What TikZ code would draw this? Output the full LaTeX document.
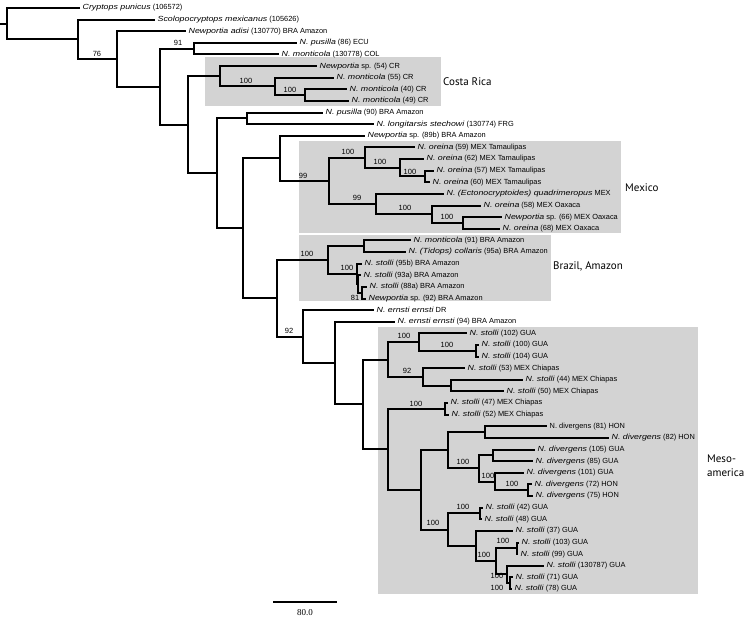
\documentclass[tikz,border=0pt]{standalone}
\usepackage{fontspec}
\setmainfont{Liberation Sans}[ItalicFeatures={FakeStretch=1.19}]
\newfontfamily\regionfont{PT Sans}
\newfontfamily\scalebarfont{Liberation Serif}
\definecolor{boxgray}{RGB}{211,211,211}
\begin{document}
\begin{tikzpicture}[x=1pt,y=-1pt,
  declare function={ly(\k)=11.62*\k-3.62;},
  br/.style={line width=2pt, line join=miter},
  lf/.style={anchor=west, inner xsep=2.5pt, inner ysep=0pt, font=\fontsize{7.4}{8}\selectfont},
  bs/.style={inner sep=0pt, font=\fontsize{7.5}{8}\selectfont},
  region/.style={anchor=west, inner sep=0pt, align=left, font=\regionfont\fontsize{11}{14}\selectfont},
  clbox/.style={fill=boxgray, draw=none, inner sep=0pt, anchor=north west}
]
\useasboundingbox (0,0) rectangle (756,624);

% shaded clade boxes
\node[clbox, minimum width=236pt, minimum height=49pt] (boxcr) at (205,57) {};
\node[clbox, minimum width=322pt, minimum height=92pt] (boxmx) at (299,141) {};
\node[clbox, minimum width=252pt, minimum height=66pt] (boxbr) at (299,235) {};
\node[clbox, minimum width=320pt, minimum height=267pt] (boxme) at (378,327) {};

% region labels
\node[region] (rcr) at (443,82) {Costa Rica};
\node[region] (rmx) at (625,188) {Mexico};
\node[region] (rbr) at (553,266) {Brazil, Amazon};
\node[region] (rme) at (707,466) {Meso-\\america};

% internal nodes
\coordinate (rootstub) at (0,{ly(2.345)});
\coordinate (nroot) at (7,{ly(2.345)});
\coordinate (nA) at (78,{ly(3.695)});
\coordinate (nB) at (117,{ly(5.39)});
\coordinate (nC) at (160,{ly(7.775)});
\coordinate (nD) at (194,{ly(4.5)});
\coordinate (nE) at (188,{ly(11.05)});
\coordinate (nCR) at (220,{ly(6.875)});
\coordinate (nCR2) at (275,{ly(7.75)});
\coordinate (nCR3) at (305,{ly(8.5)});
\coordinate (nF) at (217,{ly(15.23)});
\coordinate (nG) at (247,{ly(10.5)});
\coordinate (nH) at (243,{ly(19.96)});
\coordinate (nI) at (280,{ly(13.9375)});
\coordinate (nMX) at (329,{ly(15.875)});
\coordinate (nMXa) at (365,{ly(13.875)});
\coordinate (nMXa2) at (400,{ly(14.75)});
\coordinate (nMXa3) at (425,{ly(15.5)});
\coordinate (nMXb) at (376,{ly(17.875)});
\coordinate (nMXb2) at (432,{ly(18.75)});
\coordinate (nMXb3) at (463,{ly(19.5)});
\coordinate (nJ) at (277,{ly(25.98)});
\coordinate (nBR) at (328,{ly(22.6875)});
\coordinate (nBRa) at (364,{ly(21.5)});
\coordinate (nBRb) at (357,{ly(23.875)});
\coordinate (nBRb2) at (358,{ly(24.75)});
\coordinate (nBRc) at (362,{ly(25.5)});
\coordinate (nK) at (303,{ly(29.28)});
\coordinate (nN) at (335,{ly(31.56)});
\coordinate (nO) at (363,{ly(35.12)});
\coordinate (nP) at (388,{ly(31.25)});
\coordinate (nPa) at (419,{ly(29.75)});
\coordinate (nPa2) at (476,{ly(30.5)});
\coordinate (nPb) at (423,{ly(32.75)});
\coordinate (nPb2) at (451,{ly(33.5)});
\coordinate (nP2) at (388,{ly(38.99)});
\coordinate (nPc) at (445,{ly(35.5)});
\coordinate (nQ) at (421,{ly(42.485)});
\coordinate (nR) at (448,{ly(39.0625)});
\coordinate (nS) at (485,{ly(37.5)});
\coordinate (nT) at (479,{ly(40.625)});
\coordinate (nU) at (493,{ly(39.5)});
\coordinate (nW) at (495,{ly(41.75)});
\coordinate (nV) at (528,{ly(42.5)});
\coordinate (nX) at (448,{ly(45.906)});
\coordinate (nX1) at (480,{ly(44.5)});
\coordinate (nY) at (476,{ly(47.3125)});
\coordinate (nZ) at (496,{ly(48.625)});
\coordinate (nAA) at (517,{ly(47.5)});
\coordinate (nAB) at (507,{ly(49.75)});
\coordinate (nAC) at (510,{ly(50.5)});

% leaves
\node[lf] (l1) at (80,{ly(1)}) {\textit{Cryptops punicus} (106572)};
\node[lf] (l2) at (155,{ly(2)}) {\textit{Scolopocryptops mexicanus} (105626)};
\node[lf] (l3) at (186,{ly(3)}) {\textit{Newportia adisi} (130770) BRA Amazon};
\node[lf] (l4) at (297,{ly(4)}) {\textit{N. pusilla} (86) ECU};
\node[lf] (l5) at (279,{ly(5)}) {\textit{N. monticola} (130778) COL};
\node[lf] (l6) at (317,{ly(6)}) {\textit{Newportia} sp. (54) CR};
\node[lf] (l7) at (334,{ly(7)}) {\textit{N. monticola} (55) CR};
\node[lf] (l8) at (347,{ly(8)}) {\textit{N. monticola} (40) CR};
\node[lf] (l9) at (349,{ly(9)}) {\textit{N. monticola} (49) CR};
\node[lf] (l10) at (323,{ly(10)}) {\textit{N. pusilla} (90) BRA Amazon};
\node[lf] (l11) at (374,{ly(11)}) {\textit{N. longitarsis stechowi} (130774) FRG};
\node[lf] (l12) at (365,{ly(12)}) {\textit{Newportia} sp. (89b) BRA Amazon};
\node[lf] (l13) at (415,{ly(13)}) {\textit{N. oreina} (59) MEX Tamaulipas};
\node[lf] (l14) at (424,{ly(14)}) {\textit{N. oreina} (62) MEX Tamaulipas};
\node[lf] (l15) at (434,{ly(15)}) {\textit{N. oreina} (57) MEX Tamaulipas};
\node[lf] (l16) at (430,{ly(16)}) {\textit{N. oreina} (60) MEX Tamaulipas};
\node[lf] (l17) at (444,{ly(17)}) {\textit{N. (Ectonocryptoides) quadrimeropus} MEX};
\node[lf] (l18) at (481,{ly(18)}) {\textit{N. oreina} (58) MEX Oaxaca};
\node[lf] (l19) at (502,{ly(19)}) {\textit{Newportia} sp. (66) MEX Oaxaca};
\node[lf] (l20) at (500,{ly(20)}) {\textit{N. oreina} (68) MEX Oaxaca};
\node[lf] (l21) at (411,{ly(21)}) {\textit{N. monticola} (91) BRA Amazon};
\node[lf] (l22) at (406,{ly(22)}) {\textit{N. (Tidops) collaris} (95a) BRA Amazon};
\node[lf] (l23) at (362,{ly(23)}) {\textit{N. stolli} (95b) BRA Amazon};
\node[lf] (l24) at (361,{ly(24)}) {\textit{N. stolli} (93a) BRA Amazon};
\node[lf] (l25) at (367,{ly(25)}) {\textit{N. stolli} (88a) BRA Amazon};
\node[lf] (l26) at (366,{ly(26)}) {\textit{Newportia} sp. (92) BRA Amazon};
\node[lf] (l27) at (374,{ly(27)}) {\textit{N. ernsti ernsti} DR};
\node[lf] (l28) at (395,{ly(28)}) {\textit{N. ernsti ernsti} (94) BRA Amazon};
\node[lf] (l29) at (467,{ly(29)}) {\textit{N. stolli} (102) GUA};
\node[lf] (l30) at (479,{ly(30)}) {\textit{N. stolli} (100) GUA};
\node[lf] (l31) at (479,{ly(31)}) {\textit{N. stolli} (104) GUA};
\node[lf] (l32) at (465,{ly(32)}) {\textit{N. stolli} (53) MEX Chiapas};
\node[lf] (l33) at (523,{ly(33)}) {\textit{N. stolli} (44) MEX Chiapas};
\node[lf] (l34) at (504,{ly(34)}) {\textit{N. stolli} (50) MEX Chiapas};
\node[lf] (l35) at (448,{ly(35)}) {\textit{N. stolli} (47) MEX Chiapas};
\node[lf] (l36) at (449,{ly(36)}) {\textit{N. stolli} (52) MEX Chiapas};
\node[lf] (l37) at (547,{ly(37)}) {N. divergens (81) HON};
\node[lf] (l38) at (609,{ly(38)}) {\textit{N. divergens} (82) HON};
\node[lf] (l39) at (535,{ly(39)}) {\textit{N. divergens} (105) GUA};
\node[lf] (l40) at (533,{ly(40)}) {\textit{N. divergens} (85) GUA};
\node[lf] (l41) at (524,{ly(41)}) {\textit{N. divergens} (101) GUA};
\node[lf] (l42) at (532,{ly(42)}) {\textit{N. divergens} (72) HON};
\node[lf] (l43) at (533,{ly(43)}) {\textit{N. divergens} (75) HON};
\node[lf] (l44) at (483,{ly(44)}) {\textit{N. stolli} (42) GUA};
\node[lf] (l45) at (482,{ly(45)}) {\textit{N. stolli} (48) GUA};
\node[lf] (l46) at (513,{ly(46)}) {\textit{N. stolli} (37) GUA};
\node[lf] (l47) at (519,{ly(47)}) {\textit{N. stolli} (103) GUA};
\node[lf] (l48) at (518,{ly(48)}) {\textit{N. stolli} (99) GUA};
\node[lf] (l49) at (544,{ly(49)}) {\textit{N. stolli} (130787) GUA};
\node[lf] (l50) at (513,{ly(50)}) {\textit{N. stolli} (71) GUA};
\node[lf] (l51) at (512,{ly(51)}) {\textit{N. stolli} (78) GUA};

% branches
\draw[br] (rootstub) -- (nroot);
\foreach \p/\c in {nroot/l1.west, nroot/nA, nA/l2.west, nA/nB, nB/l3.west, nB/nC,
  nC/nD, nC/nE, nD/l4.west, nD/l5.west, nE/nCR, nE/nF, nCR/l6.west, nCR/nCR2,
  nCR2/l7.west, nCR2/nCR3, nCR3/l8.west, nCR3/l9.west, nF/nG, nF/nH,
  nG/l10.west, nG/l11.west, nH/nI, nH/nJ, nI/l12.west, nI/nMX, nMX/nMXa, nMX/nMXb,
  nMXa/l13.west, nMXa/nMXa2, nMXa2/l14.west, nMXa2/nMXa3, nMXa3/l15.west, nMXa3/l16.west,
  nMXb/l17.west, nMXb/nMXb2, nMXb2/l18.west, nMXb2/nMXb3, nMXb3/l19.west, nMXb3/l20.west,
  nJ/nBR, nJ/nK, nBR/nBRa, nBR/nBRb, nBRa/l21.west, nBRa/l22.west, nBRb/l23.west, nBRb/nBRb2,
  nBRb2/l24.west, nBRb2/nBRc, nBRc/l25.west, nBRc/l26.west,
  nK/l27.west, nK/nN, nN/l28.west, nN/nO, nO/nP, nO/nP2, nP/nPa, nP/nPb,
  nPa/l29.west, nPa/nPa2, nPa2/l30.west, nPa2/l31.west, nPb/l32.west, nPb/nPb2,
  nPb2/l33.west, nPb2/l34.west, nP2/nPc, nP2/nQ, nPc/l35.west, nPc/l36.west,
  nQ/nR, nQ/nX, nR/nS, nR/nT, nS/l37.west, nS/l38.west, nT/nU, nT/nW, nU/l39.west, nU/l40.west,
  nW/l41.west, nW/nV, nV/l42.west, nV/l43.west, nX/nX1, nX/nY, nX1/l44.west, nX1/l45.west,
  nY/l46.west, nY/nZ, nZ/nAA, nZ/nAB, nAA/l47.west, nAA/l48.west, nAB/l49.west, nAB/nAC,
  nAC/l50.west, nAC/l51.west}
  \draw[br] (\p) |- (\c);

% bootstrap values
\node[bs] (b1) at (97,54) {76};
\node[bs] (b2) at (178,43) {91};
\node[bs] (b3) at (246,81) {100};
\node[bs] (b4) at (290,90) {100};
\node[bs] (b5) at (303,176) {99};
\node[bs] (b6) at (348,152) {100};
\node[bs] (b7) at (357,198) {99};
\node[bs] (b8) at (380,162) {100};
\node[bs] (b9) at (410,172) {100};
\node[bs] (b10) at (405,208) {100};
\node[bs] (b11) at (447,217) {100};
\node[bs] (b12) at (307,254) {100};
\node[bs] (b13) at (347,268) {100};
\node[bs] (b14) at (355,298) {81};
\node[bs] (b15) at (289,331) {92};
\node[bs] (b16) at (404,336) {100};
\node[bs] (b17) at (447,345) {100};
\node[bs] (b18) at (407,371) {92};
\node[bs] (b19) at (416,404) {100};
\node[bs] (b20) at (463,462) {100};
\node[bs] (b21) at (488,476) {100};
\node[bs] (b22) at (512,484) {100};
\node[bs] (b23) at (463,507) {100};
\node[bs] (b24) at (433,523) {100};
\node[bs] (b25) at (484,555) {100};
\node[bs] (b26) at (503,541) {100};
\node[bs] (b27) at (497,576) {100};
\node[bs] (b28) at (497,588) {100};

% scale bar
\coordinate (sb1) at (273,602);
\coordinate (sb2) at (337,602);
\draw[line width=1.2pt] (sb1) -- (sb2);
\node[font=\scalebarfont\fontsize{9}{10}\selectfont, inner sep=0pt] (sbl) at (305,613) {80.0};
\end{tikzpicture}
\end{document}
